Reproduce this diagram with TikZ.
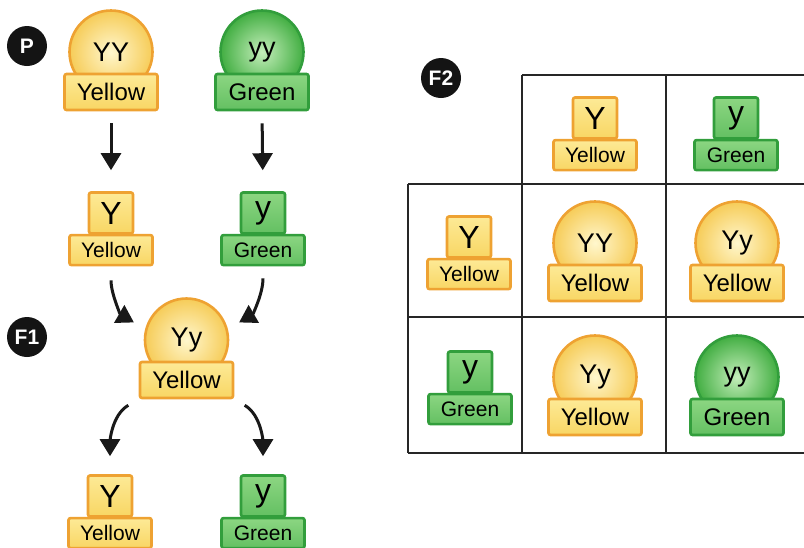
\documentclass[tikz,border=0pt]{standalone}
\usepackage{fontspec}
\setmainfont{Liberation Sans}
\usetikzlibrary{positioning,arrows.meta}
\definecolor{yeldraw}{RGB}{238,162,50}
\definecolor{yeltop}{RGB}{253,234,150}
\definecolor{yelbot}{RGB}{248,214,100}
\definecolor{yelin}{RGB}{255,247,205}
\definecolor{yelout}{RGB}{246,204,88}
\definecolor{grndraw}{RGB}{50,158,60}
\definecolor{grntop}{RGB}{140,214,130}
\definecolor{grnbot}{RGB}{100,192,98}
\definecolor{grnin}{RGB}{196,238,186}
\definecolor{grnout}{RGB}{66,174,66}
\tikzset{box/.style={draw, line width=2.6pt, rounded corners=2pt, inner sep=0pt}}
\tikzset{phen/.style={box, minimum width=93pt, minimum height=36pt, font=\fontsize{24}{26}\selectfont}}
\tikzset{phensmall/.style={box, minimum width=83pt, minimum height=30pt, font=\fontsize{21}{24}\selectfont}}
\tikzset{allele/.style={box, minimum width=44pt, minimum height=41pt, font=\fontsize{32}{34}\selectfont}}
\tikzset{pea/.style={circle, draw, line width=2.6pt, minimum size=83pt, inner sep=0pt, font=\fontsize{27}{30}\selectfont}}
\tikzset{yel/.style={draw=yeldraw, top color=yeltop, bottom color=yelbot}}
\tikzset{grn/.style={draw=grndraw, top color=grntop, bottom color=grnbot}}
\tikzset{yelball/.style={draw=yeldraw, inner color=yelin, outer color=yelout}}
\tikzset{grnball/.style={draw=grndraw, inner color=grnin, outer color=grnout}}
\tikzset{badge/.style={circle, fill=black!92, text=white, minimum size=40pt, inner sep=0pt, font=\bfseries\fontsize{21}{21}\selectfont}}
\tikzset{arr/.style={-{Triangle[width=20pt,length=17pt]}, line width=3pt, black!90}}
\tikzset{cross/.style={line width=2pt, black!85}}
% pea: name, colour, label centre, genotype, phenotype
\newcommand{\pea}[5]{%
  \node[pea,#2ball] (#1) at ([yshift=40pt]#3) {#4};
  \node[phen,#2] (#1lab) at (#3) {#5};}
% gamete: name, colour, allele box centre, allele, phenotype
\newcommand{\gamete}[5]{%
  \node[allele,#2] (#1) at (#3) {#4};
  \node[phensmall,#2,below=-1pt of #1] (#1lab) {#5};}

\begin{document}
\begin{tikzpicture}[x=1pt,y=1pt]
  \useasboundingbox (0,0) rectangle (804,-547);

  %% parents and F1
  \node[badge] (bP) at (27,-46) {P};
  \pea{pYY}{yel}{111,-92}{YY}{Yellow}
  \pea{pyy}{grn}{262,-92}{yy}{Green}

  \gamete{gY1}{yel}{111,-213}{Y}{Yellow}
  \gamete{gy1}{grn}{263,-213}{y}{Green}

  \node[badge] (bF1) at (27,-337) {F1};
  \pea{fYy}{yel}{186.5,-380}{Yy}{Yellow}

  \gamete{gY2}{yel}{110,-496}{Y}{Yellow}
  \gamete{gy2}{grn}{263,-496}{y}{Green}

  \draw[arr, shorten <=12pt, shorten >=21pt] (pYYlab.south) -- (gY1.north);
  \draw[arr, shorten <=12pt, shorten >=21pt] (pyylab.south) -- (gy1.north);
  \draw[arr, shorten <=14pt, shorten >=13pt] (gY1lab.south) to[out=-90,in=150] (fYy.165);
  \draw[arr, shorten <=12pt, shorten >=13pt] (gy1lab.south) to[out=-90,in=30] (fYy.15);
  \draw[arr, shorten <=12pt, shorten >=18pt] (fYylab.south west) to[out=210,in=90] (gY2.north);
  \draw[arr, shorten <=12pt, shorten >=18pt] (fYylab.south east) to[out=-30,in=90] (gy2.north);

  %% F2 square
  \node[badge] (bF2) at (441,-78) {F2};
  \draw[cross] (522,-75) -- (810,-75);
  \draw[cross] (408,-184) -- (810,-184);
  \draw[cross] (408,-317) -- (810,-317);
  \draw[cross] (408,-453) -- (810,-453);
  \draw[cross] (408,-184) -- (408,-453);
  \draw[cross] (522,-75) -- (522,-453);
  \draw[cross] (666,-75) -- (666,-453);

  \gamete{gYh}{yel}{595,-118}{Y}{Yellow}
  \gamete{gyh}{grn}{736,-118}{y}{Green}
  \gamete{gYr}{yel}{469,-237}{Y}{Yellow}
  \gamete{gyr}{grn}{470,-372}{y}{Green}

  \pea{cYY}{yel}{595,-283}{YY}{Yellow}
  \pea{cYyA}{yel}{737,-283}{Yy}{Yellow}
  \pea{cYyB}{yel}{595,-417}{Yy}{Yellow}
  \pea{cyy}{grn}{737,-417}{yy}{Green}
\end{tikzpicture}
\end{document}
